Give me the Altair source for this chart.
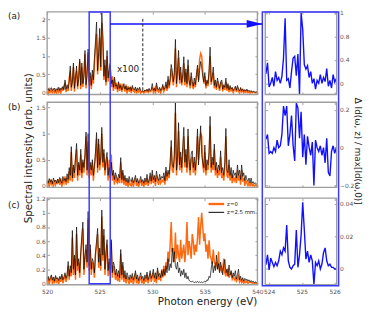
import altair as alt
import pandas as pd

# ------------------------------------------------------------------ data
energy_start, energy_step = 520.0, 0.1      # spectra sampled every 0.1 eV
zoom_data_range = [523.9, 526.05]           # samples of the zoomed difference curves
zoom_axis = [523.88, 526.06]                # visible window of the right column

a_black = [0.08, 0.12, 0.05, 0.10, 0.14, 0.06, 0.09, 0.13, 0.04, 0.11,
           0.07, 0.15, 0.06, 0.12, 0.09, 0.17, 0.08, 0.35, 0.10, 0.22,
           0.12, 0.30, 0.73, 0.15, 0.28, 0.81, 0.12, 0.40, 0.73, 0.18,
           0.35, 0.92, 0.20, 0.81, 0.25, 0.45, 1.15, 0.22, 0.50, 1.19,
           0.30, 0.55, 0.20, 0.62, 0.35, 0.95, 1.40, 1.92, 0.60, 1.10,
           1.75, 0.70, 2.17, 1.58, 0.45, 0.90, 0.30, 1.15, 0.40, 0.65,
           0.80, 0.25, 0.35, 0.15, 0.43, 0.18, 0.22, 0.10, 0.30, 0.12,
           0.20, 0.08, 0.15, 0.25, 0.10, 0.18, 0.07, 0.14, 0.09, 0.16,
           0.06, 0.20, 0.10, 0.08, 0.16, 0.05, 0.12, 0.09, 0.15, 0.06,
           0.04, 0.06, 0.03, 0.08, 0.05, 0.10, 0.04, 0.12, 0.06, 0.09,
           0.25, 0.07, 0.12, 0.05, 0.27, 0.10, 0.08, 0.15, 0.06, 0.11,
           0.23, 0.09, 0.14, 0.30, 0.12, 0.45, 0.20, 0.38, 0.77, 0.60,
           0.30, 0.55, 1.45, 0.25, 0.60, 1.15, 0.35, 0.70, 0.28, 0.50,
           0.98, 0.30, 0.65, 0.25, 0.90, 0.35, 0.20, 0.55, 0.30, 0.18,
           0.40, 0.22, 0.50, 0.75, 0.30, 0.60, 0.85, 0.70, 0.45, 0.30,
           0.55, 0.20, 0.35, 0.25, 0.60, 1.24, 0.30, 0.45, 0.70, 0.20,
           0.35, 0.15, 0.40, 0.25, 0.12, 0.30, 0.35, 0.10, 0.22, 0.15,
           0.40, 0.12, 0.25, 0.08, 0.20, 0.10, 0.15, 0.06, 0.12, 0.18,
           0.07, 0.20, 0.10, 0.05, 0.14, 0.06, 0.11, 0.04, 0.09, 0.05,
           0.10, 0.04, 0.07, 0.03, 0.06, 0.02, 0.04, 0.03, 0.02, 0.03,
           0.02]
a_orange = [0.03, -0.03, 0.10, 0.02, 0.08, -0.02, 0.12, 0.01, 0.07, -0.03,
            0.10, 0.02, 0.13, -0.02, 0.15, 0.05, 0.20, 0.25, 0.02, 0.15,
            0.05, 0.40, 0.60, 0.05, 0.35, 0.70, 0.03, 0.45, 0.60, 0.10,
            0.50, 0.85, 0.10, 0.70, 0.15, 0.55, 1.05, 0.12, 0.60, 1.10,
            0.20, 0.45, 0.10, 0.50, 0.25, 0.80, 1.20, 1.60, 0.50, 0.95,
            1.50, 0.60, 1.90, 1.30, 0.35, 0.75, 0.20, 1.00, 0.30, 0.55,
            0.70, 0.15, 0.45, 0.05, 0.38, 0.10, 0.28, 0.02, 0.25, 0.05,
            0.25, 0.02, 0.20, 0.15, 0.03, 0.22, -0.02, 0.18, 0.03, 0.12,
            -0.01, 0.15, 0.05, 0.02, 0.12, -0.02, 0.10, 0.03, 0.10, -0.01,
            0.02, 0.04, -0.01, 0.05, 0.02, 0.07, 0.01, 0.08, 0.03, 0.05,
            0.15, 0.02, 0.10, -0.02, 0.20, 0.05, 0.02, 0.12, -0.01, 0.08,
            0.18, 0.03, 0.10, 0.22, 0.05, 0.35, 0.12, 0.30, 0.65, 0.45,
            0.20, 0.45, 1.20, 0.15, 0.50, 0.95, 0.25, 0.55, 0.20, 0.40,
            0.80, 0.20, 0.55, 0.15, 0.75, 0.30, 0.12, 0.45, 0.22, 0.10,
            0.30, 0.15, 0.45, 0.65, 0.35, 0.90, 1.07, 1.00, 0.60, 0.25,
            0.45, 0.12, 0.30, 0.18, 0.50, 1.00, 0.22, 0.38, 0.55, 0.12,
            0.28, 0.08, 0.32, 0.18, 0.05, 0.25, 0.28, 0.04, 0.18, 0.08,
            0.30, 0.05, 0.20, 0.02, 0.15, 0.05, 0.10, 0.00, 0.08, 0.12,
            0.02, 0.15, 0.05, -0.01, 0.10, 0.02, 0.07, 0.00, 0.05, 0.01,
            0.06, 0.00, 0.04, -0.01, 0.03, 0.00, 0.02, 0.01, 0.00, 0.01,
            0.01]
b_black = [0.10, 0.05, 0.14, 0.07, 0.12, 0.04, 0.15, 0.08, 0.11, 0.05,
           0.13, 0.06, 0.16, 0.09, 0.05, 0.18, 0.10, 0.14, 0.08, 0.23,
           0.12, 0.35, 0.20, 0.75, 0.15, 0.40, 0.25, 0.55, 0.81, 0.20,
           0.45, 0.30, 0.70, 0.25, 0.50, 0.35, 0.60, 1.03, 0.30, 1.00,
           0.25, 0.45, 0.30, 0.50, 0.20, 0.40, 0.65, 1.02, 0.35, 0.90,
           0.40, 0.55, 1.12, 0.45, 0.70, 0.30, 0.50, 0.64, 0.20, 0.35,
           0.15, 0.45, 0.20, 0.30, 0.12, 0.25, 0.18, 0.10, 0.22, 0.15,
           0.54, 0.12, 0.30, 0.10, 0.20, 0.08, 0.15, 0.06, 0.18, 0.10,
           0.08, 0.16, 0.06, 0.12, 0.20, 0.07, 0.14, 0.05, 0.10, 0.18,
           0.07, 0.12, 0.05, 0.15, 0.08, 0.22, 0.06, 0.11, 0.25, 0.09,
           0.30, 0.12, 0.20, 0.08, 0.28, 0.15, 0.10, 0.22, 0.12, 0.18,
           0.15, 0.25, 0.10, 0.36, 0.18, 0.30, 0.22, 0.45, 0.87, 0.40,
           0.35, 0.60, 1.60, 0.30, 0.55, 1.21, 0.40, 0.65, 0.35, 0.75,
           1.12, 0.45, 0.70, 0.35, 1.09, 0.50, 0.30, 0.60, 0.67, 0.35,
           0.55, 0.30, 0.60, 1.09, 0.40, 0.75, 1.15, 0.60, 0.45, 0.35,
           0.78, 0.30, 0.50, 0.40, 0.65, 1.33, 0.35, 0.55, 0.40, 0.80,
           0.30, 0.45, 0.25, 0.40, 0.30, 0.67, 0.25, 0.35, 0.20, 0.45,
           1.10, 0.30, 0.25, 0.50, 0.20, 0.35, 0.15, 0.30, 0.20, 0.25,
           0.15, 0.40, 0.20, 0.30, 0.12, 0.40, 0.18, 0.25, 0.10, 0.20,
           0.12, 0.08, 0.15, 0.06, 0.15, 0.05, 0.08, 0.04, 0.06, 0.03,
           0.05]
b_orange = [0.04, 0.10, -0.02, 0.12, 0.03, 0.09, -0.03, 0.11, 0.02, 0.08,
            0.05, 0.12, 0.02, 0.14, -0.02, 0.10, 0.05, 0.18, 0.02, 0.15,
            0.05, 0.28, 0.10, 0.65, 0.08, 0.35, 0.15, 0.50, 0.70, 0.10,
            0.40, 0.20, 0.60, 0.15, 0.45, 0.25, 0.55, 0.95, 0.20, 0.85,
            0.15, 0.40, 0.20, 0.45, 0.10, 0.35, 0.55, 0.90, 0.25, 0.80,
            0.30, 0.50, 1.00, 0.35, 0.62, 0.20, 0.45, 0.55, 0.10, 0.50,
            0.30, 0.60, 0.10, 0.25, 0.02, 0.20, 0.08, 0.05, 0.15, 0.05,
            0.45, 0.05, 0.25, 0.02, 0.15, 0.00, 0.10, -0.02, 0.12, 0.02,
            0.00, 0.12, -0.02, 0.08, 0.15, 0.00, 0.10, -0.03, 0.06, 0.12,
            0.00, 0.08, -0.02, 0.10, 0.02, 0.15, 0.00, 0.06, 0.18, 0.03,
            0.22, 0.05, 0.15, 0.00, 0.20, 0.08, 0.02, 0.15, 0.05, 0.10,
            0.08, 0.18, 0.02, 0.28, 0.10, 0.25, 0.15, 0.38, 0.75, 0.30,
            0.25, 0.50, 1.40, 0.20, 0.45, 1.05, 0.30, 0.55, 0.25, 0.65,
            0.95, 0.35, 0.60, 0.25, 0.95, 0.40, 0.20, 0.50, 0.55, 0.25,
            0.45, 0.20, 0.50, 0.95, 0.50, 0.85, 1.00, 0.95, 0.40, 0.25,
            0.65, 0.20, 0.40, 0.30, 0.55, 1.15, 0.25, 0.45, 0.30, 0.70,
            0.20, 0.35, 0.15, 0.30, 0.20, 0.55, 0.15, 0.25, 0.10, 0.35,
            0.95, 0.20, 0.15, 0.40, 0.10, 0.25, 0.05, 0.20, 0.10, 0.15,
            0.05, 0.30, 0.10, 0.20, 0.02, 0.30, 0.08, 0.15, 0.00, 0.10,
            0.05, 0.00, 0.08, -0.01, 0.08, 0.00, 0.03, -0.01, 0.02, 0.00,
            0.01]
c_black = [0.06, 0.10, 0.04, 0.08, 0.12, 0.05, 0.09, 0.03, 0.11, 0.06,
           0.08, 0.04, 0.10, 0.06, 0.13, 0.05, 0.09, 0.15, 0.07, 0.12,
           0.31, 0.10, 0.25, 0.15, 0.75, 0.20, 0.40, 0.12, 0.80, 0.25,
           0.35, 0.15, 0.45, 0.68, 0.87, 0.20, 0.40, 0.55, 0.30, 1.02,
           0.25, 0.55, 0.20, 0.35, 0.30, 0.15, 0.45, 0.60, 0.78, 0.30,
           0.50, 0.25, 1.04, 0.40, 0.77, 0.20, 0.45, 0.62, 0.18, 0.35,
           0.20, 0.62, 0.15, 0.30, 0.25, 0.12, 0.20, 0.10, 0.18, 0.08,
           0.48, 0.12, 0.30, 0.08, 0.18, 0.06, 0.15, 0.10, 0.05, 0.12,
           0.07, 0.14, 0.05, 0.10, 0.18, 0.06, 0.12, 0.04, 0.09, 0.15,
           0.06, 0.10, 0.04, 0.12, 0.07, 0.16, 0.05, 0.10, 0.18, 0.07,
           0.12, 0.20, 0.08, 0.15, 0.06, 0.22, 0.10, 0.14, 0.08, 0.18,
           0.10, 0.20, 0.12, 0.25, 0.15, 0.35, 0.18, 0.28, 0.22, 0.50,
           0.30, 0.45, 0.25, 0.20, 0.30, 0.15, 0.22, 0.10, 0.18, 0.12,
           0.20, 0.08, 0.15, 0.06, 0.10, 0.04, 0.03, 0.02, 0.03, 0.02,
           0.01, 0.02, 0.01, 0.03, 0.01, 0.02, 0.01, 0.02, 0.01, 0.02,
           0.03, 0.02, 0.05, 0.04, 0.10, 0.08, 0.20, 0.31, 0.15, 0.25,
           0.18, 0.40, 0.20, 0.28, 0.15, 0.30, 0.22, 0.12, 0.25, 0.34,
           0.15, 0.20, 0.10, 0.26, 0.12, 0.18, 0.08, 0.15, 0.10, 0.18,
           0.06, 0.12, 0.20, 0.05, 0.10, 0.04, 0.08, 0.03, 0.07, 0.04,
           0.06, 0.03, 0.05, 0.02, 0.04, 0.02, 0.03, 0.01, 0.02, 0.01,
           0.01]
c_orange = [0.02, 0.08, -0.02, 0.06, 0.10, -0.01, 0.07, 0.00, 0.09, 0.02,
            0.05, -0.02, 0.08, 0.02, 0.11, 0.00, 0.06, 0.12, 0.02, 0.08,
            0.25, 0.05, 0.20, 0.10, 0.65, 0.12, 0.35, 0.05, 0.70, 0.18,
            0.30, 0.08, 0.40, 0.60, 0.78, 0.12, 0.35, 0.48, 0.22, 0.92,
            0.18, 0.48, 0.12, 0.30, 0.22, 0.08, 0.40, 0.52, 0.70, 0.22,
            0.42, 0.18, 0.95, 0.32, 0.68, 0.12, 0.40, 0.55, 0.10, 0.30,
            0.12, 0.58, 0.08, 0.25, 0.18, 0.05, 0.15, 0.03, 0.12, 0.02,
            0.42, 0.05, 0.25, 0.02, 0.12, 0.00, 0.10, 0.04, -0.01, 0.08,
            0.01, 0.10, -0.02, 0.06, 0.14, 0.00, 0.08, -0.02, 0.05, 0.10,
            0.00, 0.06, -0.02, 0.08, 0.02, 0.12, 0.00, 0.06, 0.14, 0.02,
            0.08, 0.15, 0.02, 0.10, 0.00, 0.18, 0.05, 0.10, 0.03, 0.20,
            0.08, 0.25, 0.10, 0.30, 0.20, 0.45, 0.30, 0.55, 0.87, 0.45,
            0.50, 0.30, 0.72, 0.35, 0.55, 0.40, 0.30, 0.62, 0.35, 0.45,
            0.55, 0.30, 0.50, 0.87, 0.40, 0.60, 0.50, 0.35, 0.70, 0.60,
            0.40, 0.55, 0.45, 0.65, 0.94, 0.55, 0.80, 1.00, 0.80, 0.60,
            0.71, 0.45, 0.55, 0.35, 0.61, 0.40, 0.35, 0.28, 0.48, 0.30,
            0.25, 0.30, 0.20, 0.45, 0.18, 0.25, 0.15, 0.20, 0.35, 0.15,
            0.10, 0.18, 0.20, 0.08, 0.12, 0.15, 0.06, 0.10, 0.05, 0.08,
            0.03, 0.06, 0.10, 0.02, 0.05, 0.01, 0.04, 0.00, 0.03, 0.01,
            0.03, 0.00, 0.02, 0.01, 0.02, 0.00, 0.01, 0.00, 0.01, 0.00,
            0.00]

ra_delta = [0.16, 0.35, -0.06, 0.00, 0.10, -0.05, 0.20, 0.05, 0.10, 0.00,
            0.12, 0.43, 1.11, 0.05, 0.08, -0.08, 0.20, 0.43, 0.46, 0.13,
            0.50, -0.19, 1.20, 0.92, 0.32, 0.24, 0.30, 0.10, 0.20, 0.00,
            0.08, -0.10, 0.05, 0.00, 0.15, 0.00, 0.10, 0.03, 0.25, -0.05,
            0.05, -0.08, 0.15, 0.02, 0.08]
rb_delta = [0.045, 0.07, -0.03, -0.02, -0.03, 0.00, -0.02, 0.04, 0.00, 0.01,
            0.07, 0.22, 0.17, 0.22, 0.01, 0.07, 0.17, 0.01, -0.07, 0.235,
            0.21, 0.05, 0.19, -0.05, 0.07, -0.09, 0.06, 0.00, -0.04, 0.03,
            -0.20, 0.04, 0.00, -0.02, 0.01, -0.04, 0.00, -0.08, 0.05, -0.13,
            -0.15, -0.02, 0.01, -0.03, 0.00]
rc_delta = [0.0026, 0.0087, -0.0006, 0.0067, 0.004, 0.0014, 0.004, 0.002, 0.005, 0.011,
            0.0087, 0.013, 0.011, 0.027, 0.005, 0.001, 0.000, 0.002, 0.003, 0.024,
            0.001, 0.0087, 0.021, 0.041, 0.024, 0.006, 0.011, 0.004, 0.0087, 0.005,
            -0.0095, 0.004, 0.002, 0.005, 0.000, 0.003, 0.010, 0.013, 0.005, 0.002,
            0.003, 0.001, 0.001, 0.000, 0.000]

x_ticks = [520, 525, 530, 535, 540]
zoom_ticks = [524, 525, 526]
a_yticks = [0, 0.5, 1, 1.5, 2]
b_yticks = [0, 0.5, 1, 1.5]
c_yticks = [0, 0.2, 0.4, 0.6, 0.8, 1, 1.2]
ra_ticks = [0, 0.4, 0.8, 1.2]
rb_ticks = [-0.2, 0, 0.2]
rc_ticks = [0, 0.02, 0.04]

box_energy = [524, 526]
dash_energy = 529.1
dash_span = [0.07, 2.05]
arrow_span = [526, 540.47]
arrow_level = 1.87
x100_pos = [527.7, 0.65]
legend_labels = ["z=0", "z=2.5 mm"]

# ------------------------------------------------------------------ layout
W, H = 366, 304
LX = [40, 255]
RX = [263, 336]
ROWS = {"a": (0.5, 85), "b": (93, 180), "c": (191, 279.5)}
LDOM = {"a": [-0.045, 2.2], "b": [-0.03, 1.6], "c": [-0.02, 1.21]}
RDOM = {"a": [-0.19, 1.22], "b": [-0.21, 0.24], "c": [-0.0097, 0.0436]}
LXDOM = [520, 540]

ORANGE = "#ff6a10"
BLACK = "#000000"
BLUE = "#1010ff"
BOXBLUE = "#3a3aff"
GRAY = "#9e9e9e"
FONT = "DejaVu Sans"


def sc(dom, rng):
    return alt.Scale(domain=list(dom), range=list(rng), nice=False, zero=False)


def series_df(vals, start, step):
    return pd.DataFrame({"x": [round(start + step * i, 5) for i in range(len(vals))], "y": vals})


def line_layer(df, xs, ys, color, width, opacity=1.0):
    return alt.Chart(df).mark_line(color=color, strokeWidth=width, opacity=opacity).encode(
        x=alt.X("x:Q", scale=xs, axis=None),
        y=alt.Y("y:Q", scale=ys, axis=None),
    )


BASE_AX = dict(grid=False, domain=False, labelFlush=False, labelOverlap=False, title=None,
               labelFont=FONT, labelFontSize=6, labelColor="#555555")


def frame_layers(xdom, xr, ydom, row, xvals, yvals, yside, label_x):
    top, bot = row
    xs = sc(xdom, xr)
    ys = sc(ydom, [bot, top])
    df = pd.DataFrame({"x1": [xdom[0]], "x2": [xdom[1]], "y1": [ydom[0]], "y2": [ydom[1]]})
    layers = []
    if yside == "left":
        yax = alt.Axis(orient="left", offset=-xr[0], values=yvals, format="~g", tickSize=0,
                       labelPadding=2, **BASE_AX)
    else:
        yax = alt.Axis(orient="right", offset=xr[1] - W, values=yvals, format="~g", tickSize=0,
                       labelPadding=3, **BASE_AX)
    if label_x:
        xax = alt.Axis(orient="bottom", offset=bot - H, values=xvals, format="~g", tickSize=0,
                       labelPadding=4, **BASE_AX)
    else:
        xax = None
    layers.append(
        alt.Chart(df).mark_rect(fillOpacity=0, stroke=GRAY, strokeWidth=1.4).encode(
            x=alt.X("x1:Q", scale=xs, axis=xax), x2="x2",
            y=alt.Y("y1:Q", scale=ys, axis=yax), y2="y2")
    )
    tick = dict(grid=False, domain=False, labels=False, title=None, tickSize=2.5,
                tickColor="#888888", tickWidth=0.8)
    layers.append(
        alt.Chart(df).mark_rect(opacity=0).encode(
            x=alt.X("x1:Q", scale=xs, axis=alt.Axis(orient="bottom", offset=top - H, values=xvals, **tick)),
            x2="x2",
            y=alt.Y("y1:Q", scale=ys, axis=alt.Axis(orient="left", offset=-xr[1], values=yvals, **tick)),
            y2="y2")
    )
    layers.append(
        alt.Chart(df).mark_rect(opacity=0).encode(
            x=alt.X("x1:Q", scale=xs, axis=alt.Axis(orient="top", offset=-bot, values=xvals, **tick)),
            x2="x2",
            y=alt.Y("y1:Q", scale=ys, axis=alt.Axis(orient="right", offset=xr[0] - W, values=yvals, **tick)),
            y2="y2")
    )
    return layers


def txt(label, x, y, size, angle=0, align="center", color="#222222"):
    kw = dict(fontSize=size, font=FONT, color=color, align=align, baseline="middle")
    if angle:
        kw["angle"] = angle
    return alt.Chart(pd.DataFrame({"t": [label]})).mark_text(**kw).encode(
        x=alt.value(x), y=alt.value(y), text="t:N")


layers = []
left_series = {"a": (a_black, a_orange, a_yticks), "b": (b_black, b_orange, b_yticks),
               "c": (c_black, c_orange, c_yticks)}
right_series = {"a": (ra_delta, ra_ticks), "b": (rb_delta, rb_ticks), "c": (rc_delta, rc_ticks)}

for key in ["a", "b", "c"]:
    blk, org, yt = left_series[key]
    top, bot = ROWS[key]
    xs = sc(LXDOM, LX)
    ys = sc(LDOM[key], [bot, top])
    layers.append(line_layer(series_df(org, energy_start, energy_step), xs, ys, ORANGE, 1.5))
    layers.append(line_layer(series_df(blk, energy_start, energy_step), xs, ys, BLACK, 0.8, 0.85))
    layers += frame_layers(LXDOM, LX, LDOM[key], ROWS[key], x_ticks, yt, "left", key == "c")

    vals, rt = right_series[key]
    rstep = (zoom_data_range[1] - zoom_data_range[0]) / (len(vals) - 1)
    rxs = sc(zoom_axis, RX)
    rys = sc(RDOM[key], [bot, top])
    layers.append(line_layer(series_df(vals, zoom_data_range[0], rstep), rxs, rys, BLUE, 1.4))
    layers += frame_layers(zoom_axis, RX, RDOM[key], ROWS[key], zoom_ticks, rt, "right", key == "c")

# blue selection box spanning the three spectra
box_df = pd.DataFrame({"x1": [box_energy[0]], "x2": [box_energy[1]], "y1": [0], "y2": [1]})
layers.append(
    alt.Chart(box_df).mark_rect(fillOpacity=0, stroke=BOXBLUE, strokeWidth=1.5).encode(
        x=alt.X("x1:Q", scale=sc(LXDOM, LX), axis=None), x2="x2",
        y=alt.Y("y1:Q", scale=sc([0, 1], [278.5, 0.7]), axis=None), y2="y2")
)
# blue frame around the zoom column
layers.append(
    alt.Chart(pd.DataFrame({"k": [0]})).mark_rect(fillOpacity=0, stroke=BOXBLUE, strokeWidth=1.5).encode(
        x=alt.value(260), x2=alt.value(338), y=alt.value(0.7), y2=alt.value(280.5))
)
# arrow
xs_a = sc(LXDOM, LX)
ys_a = sc(LDOM["a"], [ROWS["a"][1], ROWS["a"][0]])
arrow_df = pd.DataFrame({"x1": [arrow_span[0]], "x2": [arrow_span[1]], "y": [arrow_level]})
layers.append(
    alt.Chart(arrow_df).mark_rule(color=BLUE, strokeWidth=1.5).encode(
        x=alt.X("x1:Q", scale=xs_a, axis=None), x2="x2",
        y=alt.Y("y:Q", scale=ys_a, axis=None))
)
head_df = pd.DataFrame({"x": [arrow_span[1]], "y": [arrow_level]})
layers.append(
    alt.Chart(head_df).mark_point(shape="M-2,-0.5L0,0L-2,0.5Z", filled=True, size=256,
                                  color=BLUE, opacity=1).encode(
        x=alt.X("x:Q", scale=xs_a, axis=None),
        y=alt.Y("y:Q", scale=ys_a, axis=None))
)
# dashed separator and x100
dash_df = pd.DataFrame({"x": [dash_energy], "y1": [dash_span[0]], "y2": [dash_span[1]]})
layers.append(
    alt.Chart(dash_df).mark_rule(color="#222222", strokeWidth=1, strokeDash=[3, 2]).encode(
        x=alt.X("x:Q", scale=xs_a, axis=None),
        y=alt.Y("y1:Q", scale=ys_a, axis=None), y2="y2")
)
x100_df = pd.DataFrame({"x": [x100_pos[0]], "y": [x100_pos[1]], "t": ["x100"]})
layers.append(
    alt.Chart(x100_df).mark_text(fontSize=9, font=FONT, color="#222222").encode(
        x=alt.X("x:Q", scale=xs_a, axis=None),
        y=alt.Y("y:Q", scale=ys_a, axis=None), text="t:N")
)

# legend in panel (c)
layers.append(alt.Chart(pd.DataFrame({"k": [0]})).mark_rule(color=ORANGE, strokeWidth=2.4).encode(
    x=alt.value(205), x2=alt.value(221), y=alt.value(197)))
layers.append(alt.Chart(pd.DataFrame({"k": [0]})).mark_rule(color=BLACK, strokeWidth=1).encode(
    x=alt.value(205), x2=alt.value(221), y=alt.value(205.5)))
layers.append(txt(legend_labels[0], 224, 197, 5.5, align="left"))
layers.append(txt(legend_labels[1], 224, 205.5, 5.5, align="left"))

# titles and panel labels
layers.append(txt("Spectral intensity (arb. units)", 22, 140, 10.5, angle=270))
layers.append(txt("Photon energy (eV)", 204, 297, 10.5))
layers.append(txt("\u0394 Id(\u03c9, z) / max[Id(\u03c9,0)]", 358, 143, 9, angle=90))
layers.append(txt("(a)", 0, 5, 9, align="left"))
layers.append(txt("(b)", 0, 98, 9, align="left"))
layers.append(txt("(c)", 0, 198, 9, align="left"))

chart = alt.layer(*layers).resolve_scale(x="independent", y="independent").properties(
    width=W, height=H, autosize=alt.AutoSizeParams(type="none"), padding=0
).configure_view(stroke=None)

chart.save("out.html", embed_options={"renderer": "svg", "actions": False})
